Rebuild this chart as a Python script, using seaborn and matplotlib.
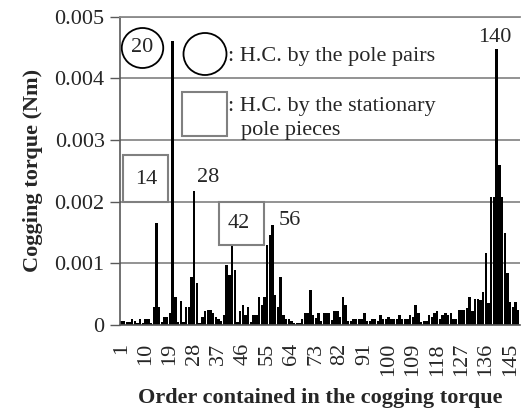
import numpy as np
import pandas as pd
import matplotlib
matplotlib.use("Agg")
import matplotlib.pyplot as plt
import seaborn as sns
from matplotlib.patches import Ellipse, Rectangle

# Harmonic orders of the cogging torque and their amplitudes (in 1e-3 Nm)
orders = list(range(1, 149))
torque_mNm = [
    0.07, 0.07, 0.05, 0.05, 0.10, 0.07, 0.04, 0.10, 0.04, 0.10,   # 1-10
    0.10, 0.04, 0.30, 1.65, 0.30, 0.05, 0.13, 0.13, 0.20, 4.60,   # 11-20
    0.45, 0.05, 0.39, 0.05, 0.30, 0.30, 0.78, 2.17, 0.68, 0.03,   # 21-30
    0.13, 0.22, 0.25, 0.25, 0.19, 0.13, 0.10, 0.06, 0.16, 0.97,   # 31-40
    0.81, 1.32, 0.90, 0.05, 0.22, 0.32, 0.16, 0.30, 0.05, 0.17,   # 41-50
    0.17, 0.46, 0.32, 0.45, 1.30, 1.46, 1.62, 0.49, 0.30, 0.78,   # 51-60
    0.16, 0.10, 0.10, 0.07, 0.04, 0.04, 0.04, 0.10, 0.20, 0.20,   # 61-70
    0.56, 0.17, 0.11, 0.20, 0.07, 0.20, 0.20, 0.20, 0.08, 0.22,   # 71-80
    0.22, 0.13, 0.46, 0.32, 0.07, 0.07, 0.10, 0.10, 0.10, 0.10,   # 81-90
    0.20, 0.07, 0.07, 0.10, 0.10, 0.07, 0.16, 0.10, 0.10, 0.13,   # 91-100
    0.10, 0.10, 0.10, 0.17, 0.10, 0.10, 0.10, 0.17, 0.13, 0.33,   # 101-110
    0.20, 0.05, 0.07, 0.07, 0.17, 0.13, 0.20, 0.22, 0.10, 0.16,   # 111-120
    0.19, 0.17, 0.20, 0.09, 0.09, 0.25, 0.25, 0.25, 0.27, 0.46,   # 121-130
    0.22, 0.42, 0.42, 0.41, 0.54, 1.16, 0.35, 2.08, 2.08, 4.48,   # 131-140
    2.59, 2.08, 1.49, 0.84, 0.38, 0.30, 0.38, 0.25,               # 141-148
]
torque = np.array(torque_mNm) * 1e-3
tick_orders = list(range(1, 149, 9))
y_ticks = [0, 0.001, 0.002, 0.003, 0.004, 0.005]
y_tick_labels = ["0", "0.001", "0.002", "0.003", "0.004", "0.005"]

df = pd.DataFrame({"order": orders, "torque": torque})

sns.set_style("white")
plt.rcParams["font.family"] = ["Liberation Serif", "DejaVu Serif"]
FS = 16

W, H = 522, 417
fig = plt.figure(figsize=(W / 100, H / 100), dpi=100)
left, right, top, bottom = 120, 519.6, 16.7, 325
ax = fig.add_axes([left / W, 1 - bottom / H, (right - left) / W, (bottom - top) / H])

sns.barplot(data=df, x="order", y="torque", color="black", saturation=1,
            width=0.92, linewidth=0, ax=ax)

n = len(orders)
ax.set_xlim(-0.5, n - 0.5)
ax.set_ylim(0, 0.005)

grid_c = "#8a8a8a"
ax.set_yticks(y_ticks)
ax.set_yticklabels(y_tick_labels, fontsize=FS)
ax.yaxis.grid(True, color=grid_c, lw=1.3)
ax.set_axisbelow(True)
ax.tick_params(axis="y", length=7, width=1, color="#595959", pad=4, direction="out", left=True)

ax.set_xticks([o - 1 for o in tick_orders])
ax.set_xticklabels([str(o) for o in tick_orders], rotation=90, fontsize=FS)
ax.tick_params(axis="x", which="major", length=0, pad=13)
ax.set_xticks(np.arange(-0.5, n, 1), minor=True)
ax.tick_params(axis="x", which="minor", length=5, width=1, color="#595959", direction="out")

for s in ["left", "bottom"]:
    ax.spines[s].set_color("#595959")
    ax.spines[s].set_linewidth(1.2)
ax.spines["top"].set_color(grid_c)
ax.spines["top"].set_linewidth(1.3)
ax.spines["right"].set_visible(False)

ax.set_xlabel("Order contained in the cogging torque", fontsize=FS, fontweight="bold", labelpad=8)
ax.set_ylabel("Cogging torque (Nm)", fontsize=FS, fontweight="bold", labelpad=8)

cat_w = (right - left) / n
unit = (bottom - top) / 0.005


def px(x, y):
    """Convert figure pixel position to data coordinates of the bar axes."""
    return (x - left) / cat_w - 0.5, (bottom - y) / unit


# Circle around order 20 (harmonic caused by the pole pairs)
cx, cy = px(142.5, 48)
ax.add_patch(Ellipse((cx, cy), 41.5 / cat_w, 40 / unit, fill=False, ec="black", lw=1.3, clip_on=False))
ax.text(cx, cy, "20", ha="center", va="center", fontsize=FS)

# Legend entries
lx, ly = px(205, 54)
ax.add_patch(Ellipse((lx, ly), 43 / cat_w, 42 / unit, fill=False, ec="black", lw=1.3))
ax.text(*px(228, 56), ": H.C. by the pole pairs", ha="left", va="center", fontsize=FS)

sx0, sy0 = px(181.7, 136)
ax.add_patch(Rectangle((sx0, sy0), 45 / cat_w, 44.3 / unit, fill=False, ec="#808080", lw=1.5))
ax.text(*px(228, 106), ": H.C. by the stationary", ha="left", va="center", fontsize=FS)
ax.text(*px(241, 131), "pole pieces", ha="left", va="center", fontsize=FS)

# Boxes around orders 14 and 42 (harmonics caused by the stationary pole pieces)
bx, by = px(123.3, 201.7)
ax.add_patch(Rectangle((bx, by), 45 / cat_w, 46.7 / unit, fill=False, ec="#808080", lw=1.5))
ax.text(*px(146, 179), "14", ha="center", va="center", fontsize=FS)

bx, by = px(219.3, 245)
ax.add_patch(Rectangle((bx, by), 44.7 / cat_w, 43.3 / unit, fill=False, ec="#808080", lw=1.5))
ax.text(*px(238.5, 224), "42", ha="center", va="center", fontsize=FS)

ax.text(*px(208.3, 177), "28", ha="center", va="center", fontsize=FS)
ax.text(*px(290, 220.5), "56", ha="center", va="center", fontsize=FS)
ax.text(*px(495, 37.5), "140", ha="center", va="center", fontsize=FS)

fig.savefig("out.png", dpi=100)
